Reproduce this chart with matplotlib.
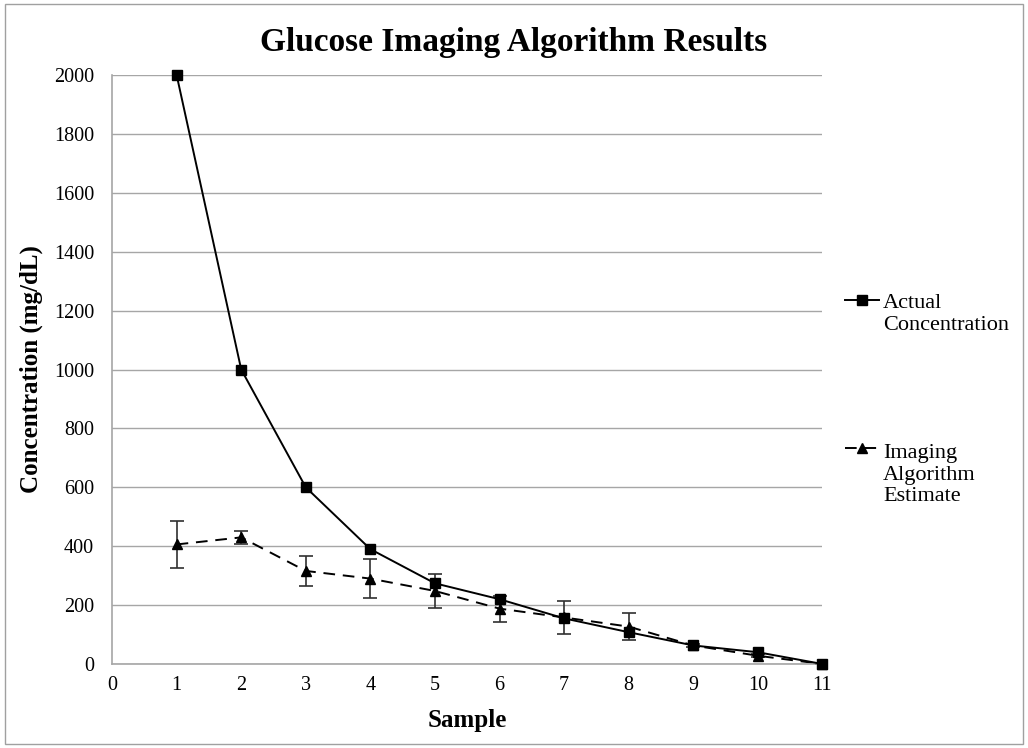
import numpy as np
import matplotlib
matplotlib.use("Agg")
import matplotlib.pyplot as plt
from matplotlib.legend_handler import HandlerLine2D

plt.rcParams['font.family'] = ['Liberation Serif', 'DejaVu Serif']

# Data
samples = [1, 2, 3, 4, 5, 6, 7, 8, 9, 10, 11]
actual = [2000, 1000, 600, 390, 274, 220, 155, 108, 63, 40, 0]
estimate = [406, 430, 316, 290, 248, 188, 158, 127, 63, 28, 0]
estimate_err = [80, 23, 50, 67, 58, 44, 57, 47, 5, 5, 0]


# legend handle sits on the first line of a multi-line label (spreadsheet style)
class TopLineHandler(HandlerLine2D):
    def create_artists(self, legend, orig_handle, xdescent, ydescent,
                       width, height, fontsize, trans):
        artists = super().create_artists(legend, orig_handle, xdescent, ydescent,
                                         width, height, fontsize, trans)
        nlines = orig_handle.get_label().count('\n') + 1
        shift = (nlines - 1) * 0.6 * fontsize
        for a in artists:
            a.set_ydata(np.asarray(a.get_ydata()) + shift)
        return artists


fig = plt.figure(figsize=(10.28, 7.48), dpi=100)
ax = fig.add_axes([0.109, 0.1123, 0.691, 0.7874])

# outer grey frame like the spreadsheet chart area
fig.patches.append(plt.Rectangle((0.005, 0.005), 0.99, 0.99, transform=fig.transFigure,
                                 fill=False, edgecolor='#a0a0a0', linewidth=1))

line_actual, = ax.plot(samples, actual, color='black', linewidth=1.4, marker='s',
                       markersize=7, label='Actual\nConcentration', zorder=3,
                       clip_on=False)
eb = ax.errorbar(samples, estimate, yerr=estimate_err, color='black', linewidth=1.4,
                 linestyle=(0, (6, 4)), marker='^', markersize=7, ecolor='#303030',
                 elinewidth=1.2, capsize=5, capthick=1.2, zorder=2)
line_est = eb[0]
line_est.set_clip_on(False)
line_est.set_label('Imaging\nAlgorithm\nEstimate')

ax.set_xlim(0, 11)
ax.set_ylim(0, 2000)
ax.set_xticks(range(0, 12))
ax.set_yticks(range(0, 2001, 200))
ax.yaxis.grid(True, color='#a6a6a6', linewidth=1)
ax.set_axisbelow(True)
for s in ['top', 'right']:
    ax.spines[s].set_visible(False)
for s in ['left', 'bottom']:
    ax.spines[s].set_color('#a6a6a6')
    ax.spines[s].set_linewidth(1.2)
ax.tick_params(length=0, labelsize=14.5)
ax.tick_params(axis='x', pad=9)
ax.tick_params(axis='y', pad=13)

ax.set_xlabel('Sample', fontsize=18, fontweight='bold', labelpad=10)
ax.set_ylabel('Concentration (mg/dL)', fontsize=18, fontweight='bold', labelpad=8)
fig.text(0.5, 0.943, 'Glucose Imaging Algorithm Results', ha='center', va='center',
         fontsize=24, fontweight='bold')

fig.legend(handles=[line_actual, line_est], loc='center left',
           bbox_to_anchor=(0.803, 0.465), frameon=False, fontsize=16,
           labelspacing=4.9, handlelength=1.5, handletextpad=0.2, numpoints=1,
           handler_map={type(line_actual): TopLineHandler()})

fig.savefig('out.png', dpi=100)
